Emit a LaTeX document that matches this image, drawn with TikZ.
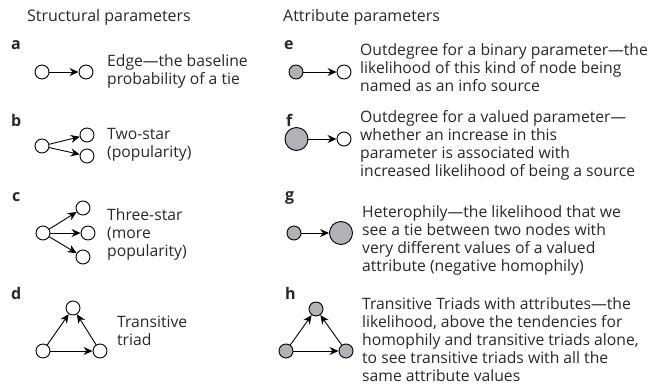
\documentclass[tikz,border=0pt]{standalone}
\usepackage{fontspec}
\setmainfont{Open Sans}
\usetikzlibrary{arrows.meta}
\definecolor{nodegray}{RGB}{178,178,182}
\definecolor{txt}{RGB}{40,40,40}
\begin{document}
\begin{tikzpicture}[x=1pt,y=-1pt,
  every node/.style={text=txt},
  wn/.style={circle,draw=black,line width=0.9pt,fill=white,minimum size=14pt,inner sep=0pt},
  gn/.style={circle,draw=black,line width=0.9pt,fill=nodegray,minimum size=14pt,inner sep=0pt},
  bign/.style={gn,minimum size=23pt},
  arr/.style={-{Stealth[length=9pt,width=8pt]},line width=0.9pt},
  desc/.style={anchor=west,align=left,inner sep=0pt,font=\fontsize{15.7}{18}\selectfont},
  head/.style={anchor=west,inner sep=0pt,font=\fontsize{16}{18}\selectfont},
  lab/.style={anchor=west,inner sep=0pt,font=\fontsize{16}{18}\selectfont\bfseries}]
\useasboundingbox (0,0) rectangle (657,389);
% headings
\node[head] (h1) at (27,17) {Structural parameters};
\node[head] (h2) at (283,17) {Attribute parameters};
% labels
\node[lab] (la) at (11,45) {a};
\node[lab] (lb) at (11,120) {b};
\node[lab] (lc) at (12,197) {c};
\node[lab] (ld) at (11,293) {d};
\node[lab] (le) at (284,45) {e};
\node[lab] (lf) at (286,120) {f};
\node[lab] (lg) at (285,198) {g};
\node[lab] (lh) at (285,293) {h};
% panel a
\node[wn] (a1) at (42,72) {};
\node[wn] (a2) at (86,72) {};
\draw[arr] (a1) -- (a2);
\node[desc] (ta) at (107,71.5) {Edge---the baseline\\probability of a tie};
% panel b
\node[wn] (b0) at (42,146) {};
\node[wn] (b1) at (87,135) {};
\node[wn] (b2) at (87,156) {};
\draw[arr] (b0) -- (b1);
\draw[arr] (b0) -- (b2);
\node[desc] (tb) at (107,145) {Two-star\\(popularity)};
% panel c
\node[wn] (c0) at (43,233) {};
\node[wn] (c1) at (83,208) {};
\node[wn] (c2) at (88,233) {};
\node[wn] (c3) at (83,257) {};
\draw[arr] (c0) -- (c1);
\draw[arr] (c0) -- (c2);
\draw[arr] (c0) -- (c3);
\node[desc] (tc) at (107,234.5) {Three-star\\(more\\popularity)};
% panel d
\node[wn] (d1) at (73,308) {};
\node[wn] (d2) at (43,351) {};
\node[wn] (d3) at (100,351) {};
\draw[arr] (d2) -- (d1);
\draw[arr] (d3) -- (d1);
\draw[arr] (d2) -- (d3);
\node[desc] (td) at (117,330.5) {Transitive\\triad};
% panel e
\node[gn] (e1) at (296,72) {};
\node[wn] (e2) at (344,72) {};
\draw[arr] (e1) -- (e2);
\node[desc] (te) at (360,67.5) {Outdegree for a binary parameter---the\\likelihood of this kind of node being\\named as an info source};
% panel f
\node[bign] (f1) at (296.5,139) {};
\node[wn] (f2) at (344,139) {};
\draw[arr] (f1) -- (f2);
\node[desc] (tf) at (360,145.5) {Outdegree for a valued parameter---\\whether an increase in this\\parameter is associated with\\increased likelihood of being a source};
% panel g
\node[gn] (g1) at (294,233) {};
\node[bign] (g2) at (341,233) {};
\draw[arr] (g1) -- (g2);
\node[desc] (tg) at (362,240) {Heterophily---the likelihood that we\\see a tie between two nodes with\\very different values of a valued\\attribute (negative homophily)};
% panel h
\node[gn] (h1n) at (316,309) {};
\node[gn] (h2n) at (286,351) {};
\node[gn] (h3n) at (346,351) {};
\draw[arr] (h2n) -- (h1n);
\draw[arr] (h3n) -- (h1n);
\draw[arr] (h2n) -- (h3n);
\node[desc] (th) at (362,340) {Transitive Triads with attributes---the\\likelihood, above the tendencies for\\homophily and transitive triads alone,\\to see transitive triads with all the\\same attribute values};
\end{tikzpicture}
\end{document}
